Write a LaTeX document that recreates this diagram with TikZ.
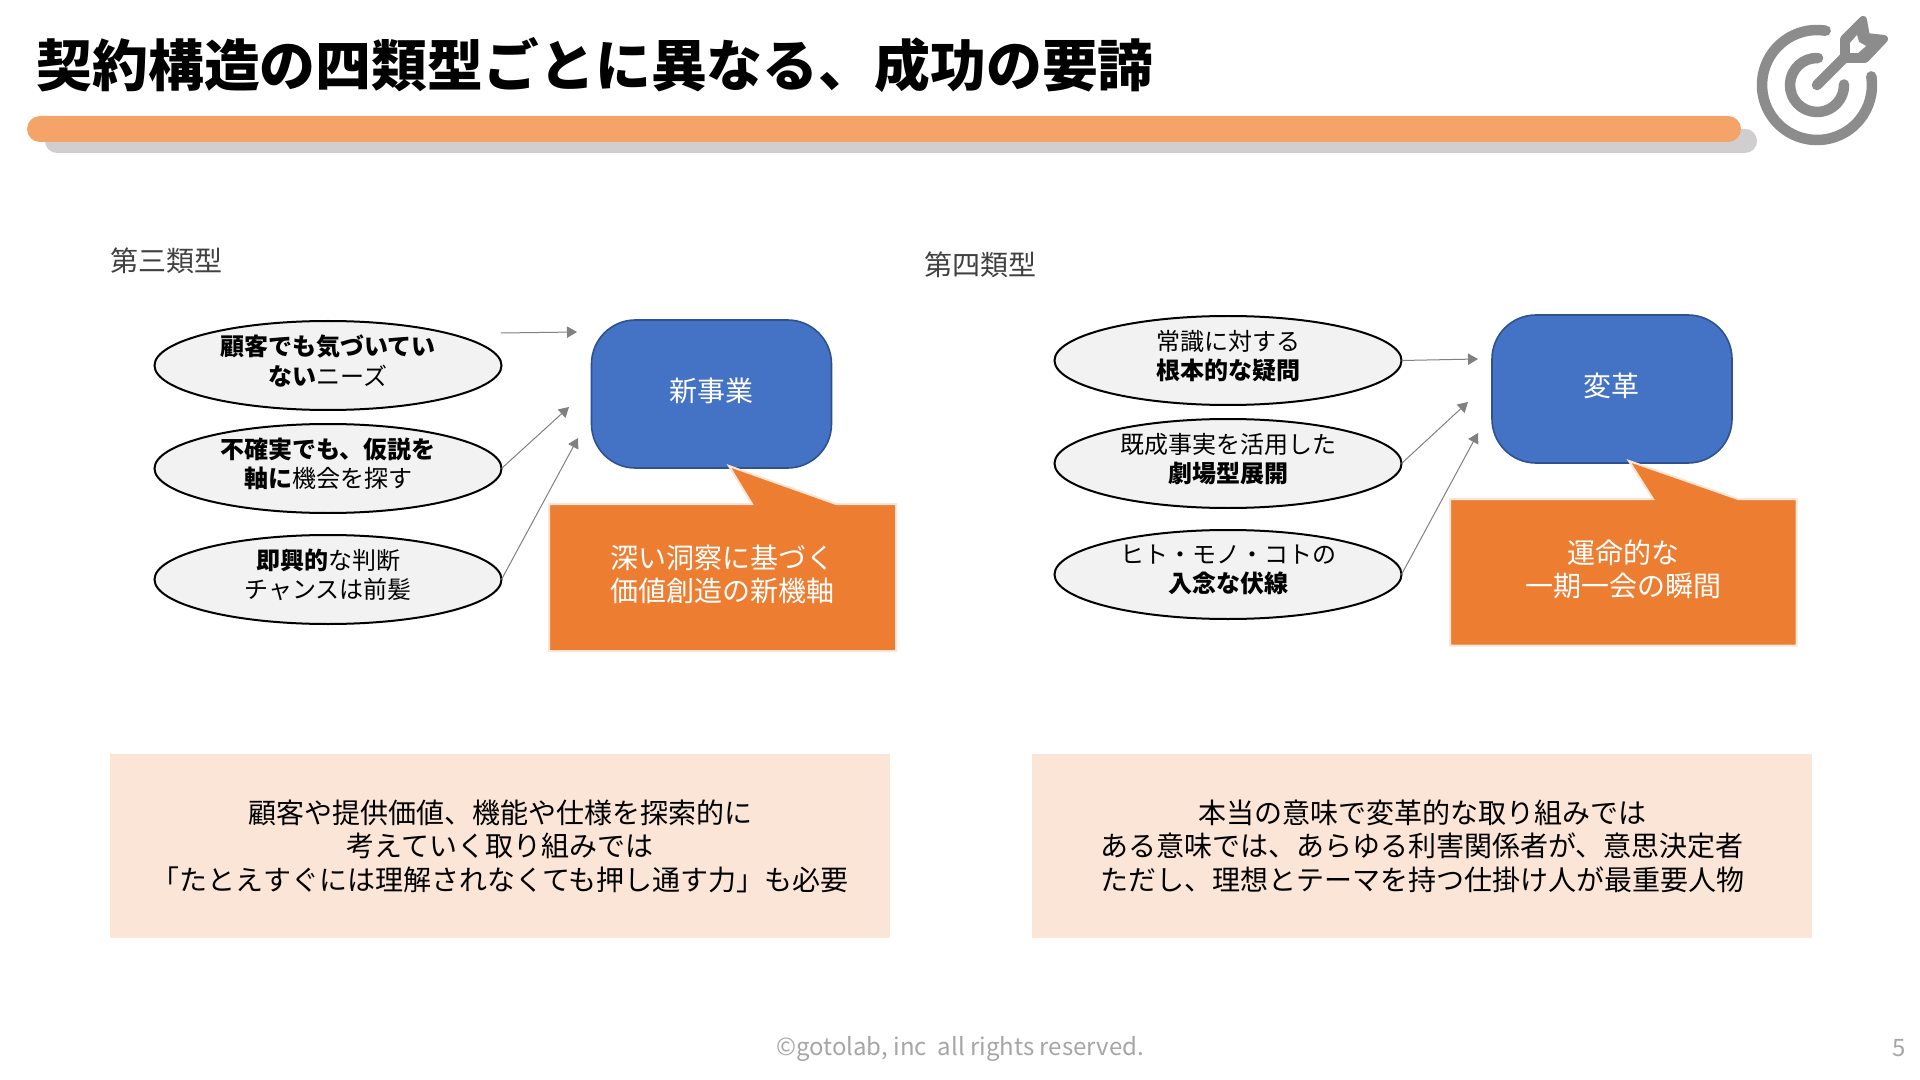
\documentclass[tikz,border=0pt]{standalone}
\usepackage{fontspec}
\setmainfont{Noto Sans CJK JP}
\usetikzlibrary{arrows.meta,shapes.geometric}
\definecolor{barorange}{HTML}{F4A469}
\definecolor{bargrey}{HTML}{D0CECE}
\definecolor{icongrey}{HTML}{8C8C8C}
\definecolor{ovalfill}{HTML}{F2F2F2}
\definecolor{goalblue}{HTML}{4472C4}
\definecolor{goalline}{HTML}{2F528F}
\definecolor{noteorange}{HTML}{ED7D31}
\definecolor{notepale}{HTML}{FBE5D6}
\definecolor{footgrey}{HTML}{A6A6A6}
\tikzset{
  every picture/.style={line width=0.75pt},
  oval/.style={ellipse,draw=black,fill=ovalfill,line width=1.5pt,minimum width=260.25pt,minimum height=66.75pt,inner sep=0pt,outer sep=0pt,align=center,text depth=8pt,font=\fontsize{18}{21.8}\selectfont},
  goal/.style={rectangle,rounded corners=33pt,draw=goalline,fill=goalblue,line width=1.2pt,minimum width=180pt,minimum height=111pt,inner sep=0pt,outer sep=0pt},
  goaltext/.style={text=white,inner sep=0pt,font=\fontsize{21}{25}\selectfont},
  notebox/.style={fill=noteorange,draw=notepale,line width=1.5pt},
  notetext/.style={text=white,inner sep=0pt,align=center,font=\fontsize{21}{25}\selectfont},
  flow/.style={draw=gray,line width=0.75pt,-{Triangle[length=7.5pt,width=8.5pt]}},
  heading/.style={inner sep=0pt,anchor=west,font=\fontsize{21}{25}\selectfont,text=black!75},
  summary/.style={rectangle,fill=notepale,minimum width=585pt,minimum height=138pt,inner sep=0pt,outer sep=0pt,align=center,font=\fontsize{21}{25.2}\selectfont},
  ring/.style={draw=icongrey,line width=7.9pt,line cap=round}
}

\begin{document}
\begin{tikzpicture}[x=0.75pt,y=0.75pt,yscale=-1,xscale=1]
    \useasboundingbox (0,0) rectangle (1920,1080);
    % Title
    \node (title) [anchor=west,inner sep=0pt,font=\fontsize{41.9}{48}\selectfont\bfseries] at (36,65) {契約構造の四類型ごとに異なる、成功の要諦};
    \fill [bargrey, rounded corners=9pt] (45,129) rectangle (1757,153);
    \fill [barorange, rounded corners=9.75pt] (27,116) rectangle (1741,142);
    % Icon
    \draw [ring] (1817,85) ++(-81:55) arc [start angle=-81,end angle=-369,radius=55];
    \draw [ring] (1817,85) ++(-88:27) arc [start angle=-88,end angle=-361,radius=27];
    \draw [ring] (1817,85) -- (1850,52);
    \draw [draw=icongrey,fill=icongrey,line width=6pt,line join=round] (1844,39) -- (1863,20) -- (1866,37) -- (1884,39) -- (1865,59) -- (1844,59) -- cycle;
    \fill [white] (1850,43) -- (1857,35) -- (1859,42) -- (1866,46) -- (1858,53) -- (1850,53) -- cycle;
    % Headings
    \node (head3) [heading] at (110,261) {第三類型};
    \node (head4) [heading] at (924,264.5) {第四類型};
    % Third type
    \node (oval31) [oval] at (328,365.5) {\textbf{顧客でも気づいてい}\\\textbf{ない}ニーズ};
    \node (oval32) [oval] at (328,468.5) {\textbf{不確実でも、仮説を}\\\textbf{軸に}機会を探す};
    \node (oval33) [oval] at (328,579.5) {\textbf{即興的}な判断\\チャンスは前髪};
    \node (goal3) [goal] at (711.5,394) {};
    \node (goal3text) [goaltext] at (711,391) {新事業};
    \draw [notebox] (549,504) -- (752,504) -- (729,466) -- (836,504) -- (896,504) -- (896,651) -- (549,651) -- cycle;
    \node (note3) [notetext] at (722.5,574.5) {深い洞察に基づく\\価値創造の新機軸};
    % Connection
    \coordinate (from31) at (501,333);
    \coordinate (to31) at (577,332);
    \coordinate (to32) at (569,407);
    \coordinate (to33) at (578,438);
    \draw [flow] (from31) -- (to31);
    \draw [flow] (oval32.east) -- (to32);
    \draw [flow] (oval33.east) -- (to33);
    % Fourth type
    \node (oval41) [oval] at (1228,360.5) {常識に対する\\\textbf{根本的な疑問}};
    \node (oval42) [oval] at (1228,463.5) {既成事実を活用した\\\textbf{劇場型展開}};
    \node (oval43) [oval] at (1228,574.5) {ヒト・モノ・コトの\\\textbf{入念な伏線}};
    \node (goal4) [goal] at (1612,389) {};
    \node (goal4text) [goaltext] at (1611.5,386) {変革};
    \draw [notebox] (1450,499) -- (1653,499) -- (1629,461) -- (1738,499) -- (1796.5,499) -- (1796.5,645.5) -- (1450,645.5) -- cycle;
    \node (note4) [notetext] at (1623,569.5) {運命的な\\一期一会の瞬間};
    % Connection
    \coordinate (to41) at (1478,359);
    \coordinate (to42) at (1468,402);
    \coordinate (to43) at (1478,433);
    \draw [flow] (oval41.east) -- (to41);
    \draw [flow] (oval42.east) -- (to42);
    \draw [flow] (oval43.east) -- (to43);
    % Summary
    \node (sum3) [summary] at (500,846) {顧客や提供価値、機能や仕様を探索的に\\考えていく取り組みでは\\「たとえすぐには理解されなくても押し通す力」も必要};
    \node (sum4) [summary] at (1422,846) {本当の意味で変革的な取り組みでは\\ある意味では、あらゆる利害関係者が、意思決定者\\ただし、理想とテーマを持つ仕掛け人が最重要人物};
    % Footer
    \node (foot) [inner sep=0pt,text=footgrey,font=\fontsize{18}{20}\selectfont] at (960,1049) {©gotolab, inc\ \ all rights reserved.};
    \node (page) [inner sep=0pt,text=footgrey,font=\fontsize{18}{20}\selectfont] at (1899,1048) {5};
\end{tikzpicture}
\end{document}
